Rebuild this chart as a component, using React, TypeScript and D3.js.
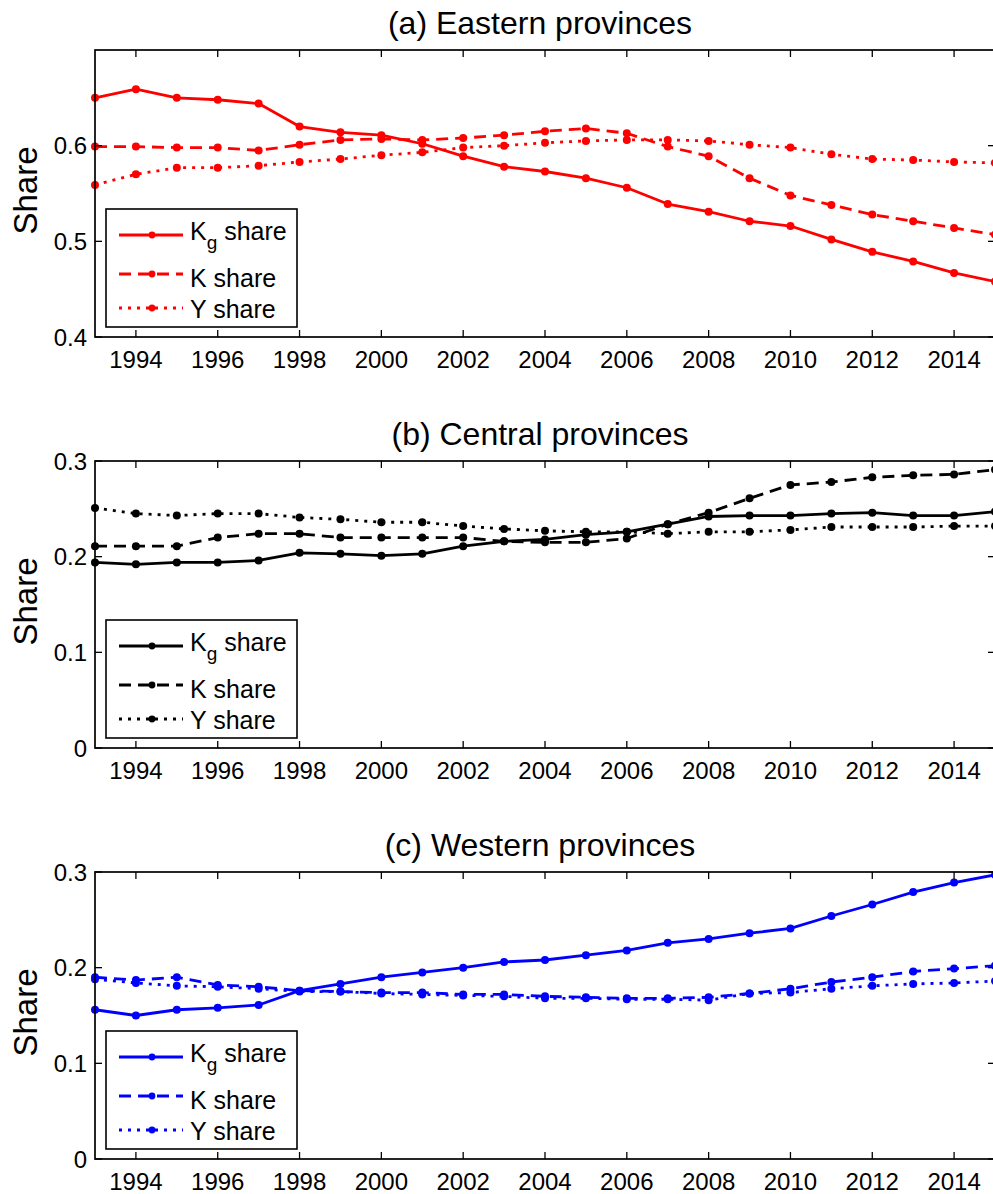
import React from 'react';
import * as d3 from 'd3';

// Years on the horizontal axis
const years = [
  1993, 1994, 1995, 1996, 1997, 1998, 1999, 2000, 2001, 2002, 2003, 2004,
  2005, 2006, 2007, 2008, 2009, 2010, 2011, 2012, 2013, 2014, 2015,
];
const xTickYears = [1994, 1996, 1998, 2000, 2002, 2004, 2006, 2008, 2010, 2012, 2014];

// (a) Eastern provinces
const eastKg = [
  0.650, 0.659, 0.650, 0.648, 0.644, 0.620, 0.614, 0.611, 0.602, 0.589, 0.578, 0.573,
  0.566, 0.556, 0.539, 0.531, 0.521, 0.516, 0.502, 0.489, 0.479, 0.467, 0.458,
];
const eastK = [
  0.599, 0.599, 0.598, 0.598, 0.595, 0.601, 0.606, 0.607, 0.606, 0.608, 0.611, 0.615,
  0.618, 0.613, 0.599, 0.589, 0.566, 0.548, 0.538, 0.528, 0.521, 0.514, 0.507,
];
const eastY = [
  0.559, 0.570, 0.577, 0.577, 0.579, 0.583, 0.586, 0.590, 0.593, 0.598, 0.600, 0.603,
  0.605, 0.606, 0.606, 0.605, 0.601, 0.598, 0.591, 0.586, 0.585, 0.583, 0.582,
];

// (b) Central provinces
const centralKg = [
  0.194, 0.192, 0.194, 0.194, 0.196, 0.204, 0.203, 0.201, 0.203, 0.211, 0.216, 0.218,
  0.223, 0.226, 0.234, 0.242, 0.243, 0.243, 0.245, 0.246, 0.243, 0.243, 0.247,
];
const centralK = [
  0.211, 0.211, 0.211, 0.220, 0.224, 0.224, 0.220, 0.220, 0.220, 0.220, 0.216, 0.215,
  0.215, 0.219, 0.234, 0.246, 0.261, 0.275, 0.278, 0.283, 0.285, 0.286, 0.291,
];
const centralY = [
  0.251, 0.245, 0.243, 0.245, 0.245, 0.241, 0.239, 0.236, 0.236, 0.232, 0.229, 0.227,
  0.226, 0.226, 0.224, 0.226, 0.226, 0.228, 0.231, 0.231, 0.231, 0.232, 0.232,
];

// (c) Western provinces
const westKg = [
  0.156, 0.150, 0.156, 0.158, 0.161, 0.176, 0.183, 0.190, 0.195, 0.200, 0.206, 0.208,
  0.213, 0.218, 0.226, 0.230, 0.236, 0.241, 0.254, 0.266, 0.279, 0.289, 0.297,
];
const westK = [
  0.190, 0.187, 0.190, 0.182, 0.180, 0.176, 0.175, 0.174, 0.174, 0.172, 0.172, 0.170,
  0.169, 0.168, 0.168, 0.169, 0.173, 0.178, 0.185, 0.190, 0.196, 0.199, 0.202,
];
const westY = [
  0.188, 0.184, 0.181, 0.180, 0.178, 0.175, 0.175, 0.173, 0.172, 0.171, 0.170, 0.168,
  0.168, 0.167, 0.167, 0.166, 0.173, 0.174, 0.178, 0.181, 0.183, 0.184, 0.186,
];

const eastTicks = [0.4, 0.5, 0.6];
const shareTicks = [0, 0.1, 0.2, 0.3];
const legendLabels = ['K share', 'Y share'];

const FONT = '"Liberation Sans", Arial, Helvetica, sans-serif';
const LEFT = 95;
const RIGHT = 995;
const DASH = { solid: undefined, dashed: '12,7', dotted: '3,6' } as const;

type PanelProps = {
  title: string;
  top: number;
  bottom: number;
  domain: [number, number];
  ticks: number[];
  color: string;
  kg: number[];
  k: number[];
  y: number[];
};

function Panel({ title, top, bottom, domain, ticks, color, kg, k, y }: PanelProps) {
  const xs = d3.scaleLinear().domain([1993, 2015]).range([LEFT, RIGHT]);
  const ys = d3.scaleLinear().domain(domain).range([bottom, top]);
  const line = d3
    .line<number>()
    .x((_, i) => xs(years[i]))
    .y((d) => ys(d));

  const series = [
    { values: kg, dash: DASH.solid },
    { values: k, dash: DASH.dashed },
    { values: y, dash: DASH.dotted },
  ];

  const fmt = (v: number) => (v === 0 ? '0' : v.toFixed(1));
  const tickLen = 7;
  const legTop = top + 159;
  const legRows = [top + 185, top + 224, top + 258];
  const legText = [top + 190, top + 237, top + 268];

  return (
    <g>
      <text
        x={540}
        y={top - 16}
        textAnchor="middle"
        fontSize={32}
        fontFamily={FONT}
        fill="#000"
      >
        {title}
      </text>

      {/* data lines */}
      {series.map((s, i) => (
        <g key={i}>
          <path
            d={line(s.values) || ''}
            fill="none"
            stroke={color}
            strokeWidth={2.8}
            strokeDasharray={s.dash}
            strokeLinejoin="round"
          />
          {s.values.map((v, j) => (
            <circle key={j} cx={xs(years[j])} cy={ys(v)} r={4} fill={color} />
          ))}
        </g>
      ))}

      {/* axes box */}
      <rect
        x={LEFT}
        y={top}
        width={RIGHT - LEFT}
        height={bottom - top}
        fill="none"
        stroke="#000"
        strokeWidth={1.7}
      />
      {xTickYears.map((yr) => (
        <g key={yr}>
          <line x1={xs(yr)} x2={xs(yr)} y1={bottom} y2={bottom - tickLen} stroke="#000" strokeWidth={1.3} />
          <line x1={xs(yr)} x2={xs(yr)} y1={top} y2={top + tickLen} stroke="#000" strokeWidth={1.3} />
          <text
            x={xs(yr)}
            y={bottom + 31}
            textAnchor="middle"
            fontSize={24}
            fontFamily={FONT}
            fill="#000"
          >
            {yr}
          </text>
        </g>
      ))}
      {ticks.map((t) => (
        <g key={t}>
          <line x1={LEFT} x2={LEFT + tickLen} y1={ys(t)} y2={ys(t)} stroke="#000" strokeWidth={1.3} />
          <line x1={RIGHT} x2={RIGHT - tickLen} y1={ys(t)} y2={ys(t)} stroke="#000" strokeWidth={1.3} />
          <text
            x={87}
            y={ys(t) + 8.5}
            textAnchor="end"
            fontSize={24}
            fontFamily={FONT}
            fill="#000"
          >
            {fmt(t)}
          </text>
        </g>
      ))}

      <text
        transform={`translate(37,${(top + bottom) / 2 - 3}) rotate(-90)`}
        textAnchor="middle"
        fontSize={33}
        fontFamily={FONT}
        fill="#000"
      >
        Share
      </text>

      {/* legend */}
      <rect x={106} y={legTop} width={191} height={118} fill="#fff" stroke="#000" strokeWidth={1.6} />
      {series.map((s, i) => (
        <g key={i}>
          <line
            x1={119}
            x2={183}
            y1={legRows[i]}
            y2={legRows[i]}
            stroke={color}
            strokeWidth={2.8}
            strokeDasharray={s.dash}
          />
          <circle cx={152} cy={legRows[i]} r={3.4} fill={color} />
        </g>
      ))}
      <text x={190} y={legText[0]} fontSize={25} fontFamily={FONT} fill="#000">
        <tspan>K</tspan>
        <tspan dy={9} fontSize={19}>g</tspan>
        <tspan dy={-9}> share</tspan>
      </text>
      {legendLabels.map((lab, i) => (
        <text key={lab} x={190} y={legText[i + 1]} fontSize={25} fontFamily={FONT} fill="#000">
          {lab}
        </text>
      ))}
    </g>
  );
}

export default function App() {
  return (
    <svg
      width={993}
      height={1194}
      style={{ position: 'absolute', left: 0, top: 0, background: '#fff' }}
    >
      <rect width={993} height={1194} fill="#fff" />
      <Panel
        title="(a) Eastern provinces"
        top={50}
        bottom={337}
        domain={[0.4, 0.7]}
        ticks={eastTicks}
        color="#ff0000"
        kg={eastKg}
        k={eastK}
        y={eastY}
      />
      <Panel
        title="(b) Central provinces"
        top={461}
        bottom={748}
        domain={[0, 0.3]}
        ticks={shareTicks}
        color="#000000"
        kg={centralKg}
        k={centralK}
        y={centralY}
      />
      <Panel
        title="(c) Western provinces"
        top={872}
        bottom={1159}
        domain={[0, 0.3]}
        ticks={shareTicks}
        color="#0000ff"
        kg={westKg}
        k={westK}
        y={westY}
      />
    </svg>
  );
}
